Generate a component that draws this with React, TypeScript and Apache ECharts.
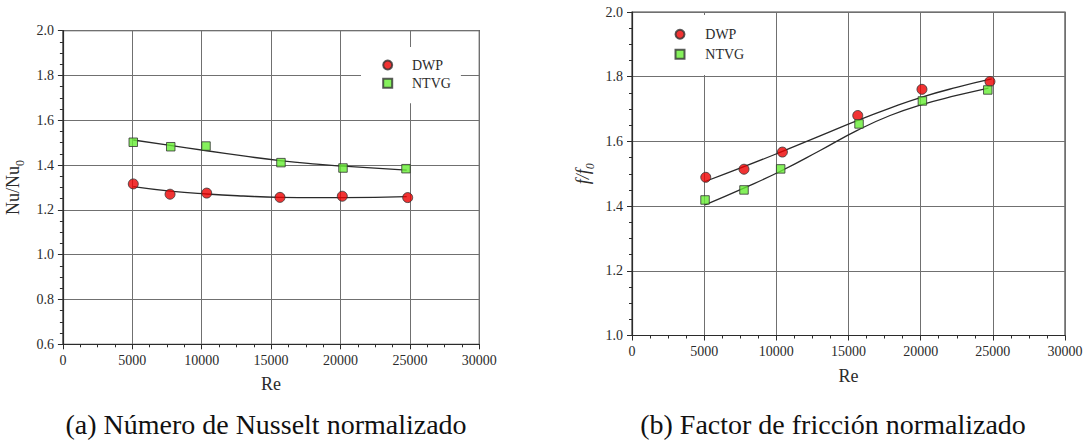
import React, { useEffect, useRef } from "react";
import * as echarts from "echarts";

// ---------- Data ----------
// (a) Nusselt number ratio Nu/Nu0 vs Re
const nuDwpRe = [5070, 7720, 10360, 15640, 20130, 24840];
const nuDwp = [1.316, 1.270, 1.275, 1.256, 1.261, 1.255];
const nuNtvgRe = [5070, 7770, 10310, 15710, 20180, 24720];
const nuNtvg = [1.502, 1.482, 1.485, 1.411, 1.387, 1.384];
// fitted curves (a)
const nuDwpFitRe = [5070, 7720, 10360, 13000, 15640, 18280, 20200, 24770];
const nuDwpFit = [1.304, 1.284, 1.271, 1.262, 1.256, 1.2545, 1.2545, 1.259];
const nuNtvgFitRe = [5070, 7480, 10360, 13000, 15640, 18280, 20200, 24770];
const nuNtvgFit = [1.512, 1.490, 1.464, 1.441, 1.420, 1.404, 1.395, 1.378];

// (b) friction factor ratio f/f0 vs Re
const fDwpRe = [5110, 7760, 10420, 15640, 20090, 24800];
const fDwp = [1.489, 1.514, 1.567, 1.680, 1.761, 1.785];
const fNtvgRe = [5060, 7760, 10300, 15730, 20120, 24650];
const fNtvg = [1.419, 1.450, 1.515, 1.654, 1.725, 1.759];
// fitted curves (b)
const fDwpFitRe = [5060, 7710, 10250, 13030, 15640, 17880, 20090, 22490, 24920];
const fDwpFit = [1.476, 1.521, 1.566, 1.617, 1.665, 1.703, 1.737, 1.767, 1.793];
const fNtvgFitRe = [5060, 7710, 10250, 13030, 15640, 17880, 20090, 22490, 24700];
const fNtvgFit = [1.404, 1.455, 1.507, 1.572, 1.635, 1.680, 1.714, 1.742, 1.765];

// axes
const reMin = 0;
const reMax = 30000;
const reStep = 5000;
const nuMin = 0.6;
const nuMax = 2.0;
const fMin = 1.0;
const fMax = 2.0;
const yStep = 0.2;

const legendNames = ["DWP", "NTVG"];
const captionA = "(a) Número de Nusselt normalizado";
const captionB = "(b) Factor de fricción normalizado";

// ---------- helpers ----------
const zip = (xs: number[], ys: number[]) => xs.map((x, i) => [x, ys[i]]);
const serif = "Liberation Serif";
const axisColor = "#2b2b2b";
const gridColor = "#707070";
const red = "#ee0000";
const green = "#66ee33";

function makeXAxis(gridIndex: number) {
  return {
    type: "value",
    gridIndex,
    min: reMin,
    max: reMax,
    interval: reStep,
    name: "Re",
    nameLocation: "middle",
    nameGap: 31,
    nameTextStyle: { fontFamily: serif, fontSize: 18, color: axisColor },
    axisLine: { show: true, onZero: false, lineStyle: { color: axisColor, width: 1.2 } },
    axisTick: { show: true, inside: false, length: 5, lineStyle: { color: axisColor } },
    minorTick: { show: true, splitNumber: 4, length: 3, lineStyle: { color: axisColor } },
    axisLabel: {
      fontFamily: serif,
      fontSize: 14,
      color: axisColor,
      margin: 9,
      formatter: (v: number) => String(v),
    },
    splitLine: { show: true, lineStyle: { color: gridColor, width: 1 } },
  };
}

function makeYAxis(gridIndex: number, min: number, max: number, name: string, rich: any, gap: number) {
  return {
    type: "value",
    gridIndex,
    min,
    max,
    interval: yStep,
    name,
    nameLocation: "middle",
    nameGap: gap,
    nameRotate: 90,
    nameTextStyle: { fontFamily: serif, fontSize: 18, color: axisColor, rich },
    axisLine: { show: true, onZero: false, lineStyle: { color: axisColor, width: 1.2 } },
    axisTick: { show: true, inside: false, length: 5, lineStyle: { color: axisColor } },
    minorTick: { show: true, splitNumber: 4, length: 3, lineStyle: { color: axisColor } },
    axisLabel: {
      fontFamily: serif,
      fontSize: 14,
      color: axisColor,
      margin: 9,
      formatter: (v: number) => v.toFixed(1),
    },
    splitLine: { show: true, lineStyle: { color: gridColor, width: 1 } },
  };
}

function fitSeries(name: string, idx: number, xs: number[], ys: number[]) {
  return {
    type: "line",
    name,
    xAxisIndex: idx,
    yAxisIndex: idx,
    data: zip(xs, ys),
    smooth: true,
    symbol: "none",
    lineStyle: { color: "#2a2a2a", width: 1.3 },
    z: 3,
  };
}

function pointSeries(name: string, idx: number, xs: number[], ys: number[], circle: boolean) {
  return {
    type: "scatter",
    name,
    xAxisIndex: idx,
    yAxisIndex: idx,
    data: zip(xs, ys),
    symbol: circle ? "circle" : "rect",
    symbolSize: circle ? 10 : 8.5,
    itemStyle: { color: circle ? red : green, borderColor: "#333", borderWidth: 1 },
    z: 5,
  };
}

function makeLegend(left: number, top: number, padding: number[], gap: number, textPad: number) {
  return {
    data: [
      { name: legendNames[0], icon: "circle" },
      { name: legendNames[1], icon: "rect" },
    ],
    orient: "vertical",
    left,
    top,
    padding,
    itemGap: gap,
    itemWidth: 9,
    itemHeight: 9,
    backgroundColor: "#fff",
    selectedMode: false,
    textStyle: {
      fontFamily: serif,
      fontSize: 14,
      color: axisColor,
      lineHeight: 16,
      padding: [0, 0, 0, textPad],
    },
  };
}

export default function App() {
  const ref = useRef<HTMLDivElement>(null);

  useEffect(() => {
    if (!ref.current) return;
    const chart = echarts.init(ref.current, undefined, { renderer: "svg" });
    const subRich = {
      a: { fontFamily: serif, fontSize: 18, color: axisColor, lineHeight: 22, verticalAlign: "top" },
      s: { fontFamily: serif, fontSize: 12, color: axisColor, lineHeight: 12, verticalAlign: "bottom" },
    };
    const subRichItalic = {
      a: { fontFamily: serif, fontSize: 18, fontStyle: "italic", color: axisColor, lineHeight: 22, verticalAlign: "top" },
      s: { fontFamily: serif, fontSize: 12, fontStyle: "italic", color: axisColor, lineHeight: 12, verticalAlign: "bottom" },
    };
    chart.setOption({
      animation: false,
      backgroundColor: "#fff",
      textStyle: { fontFamily: serif },
      grid: [
        { left: 62.9, top: 30.7, width: 416.4, height: 313.6, show: true, borderColor: "#444", borderWidth: 1.2, backgroundColor: "transparent" },
        { left: 632, top: 12, width: 433, height: 323.5, show: true, borderColor: "#444", borderWidth: 1.2, backgroundColor: "transparent" },
      ],
      xAxis: [makeXAxis(0), makeXAxis(1)],
      yAxis: [
        makeYAxis(0, nuMin, nuMax, "{a|Nu/Nu}{s|0}", subRich, 37),
        makeYAxis(1, fMin, fMax, "{a|f/f}{s|0}", subRichItalic, 36),
      ],
      legend: [
        makeLegend(361, 47, [10, 10, 12, 21.2], 2.3, 14.8),
        makeLegend(650, 15, [11.3, 12, 12.7, 24.5], 4, 15.8),
      ],
      series: [
        fitSeries("DWP fit a", 0, nuDwpFitRe, nuDwpFit),
        fitSeries("NTVG fit a", 0, nuNtvgFitRe, nuNtvgFit),
        pointSeries("DWP", 0, nuDwpRe, nuDwp, true),
        pointSeries("NTVG", 0, nuNtvgRe, nuNtvg, false),
        fitSeries("DWP fit b", 1, fDwpFitRe, fDwpFit),
        fitSeries("NTVG fit b", 1, fNtvgFitRe, fNtvgFit),
        pointSeries("DWP", 1, fDwpRe, fDwp, true),
        pointSeries("NTVG", 1, fNtvgRe, fNtvg, false),
      ],
      graphic: [
        {
          type: "text",
          style: {
            text: captionA,
            x: 266,
            y: 424,
            align: "center",
            verticalAlign: "middle",
            fontFamily: serif,
            fontSize: 28,
            fill: "#111",
          },
        },
        {
          type: "text",
          style: {
            text: captionB,
            x: 833,
            y: 424,
            align: "center",
            verticalAlign: "middle",
            fontFamily: serif,
            fontSize: 28,
            fill: "#111",
          },
        },
      ],
    });
    return () => chart.dispose();
  }, []);

  return (
    <div
      ref={ref}
      style={{ position: "fixed", left: 0, top: 0, width: 1086, height: 440, background: "#fff" }}
    />
  );
}
